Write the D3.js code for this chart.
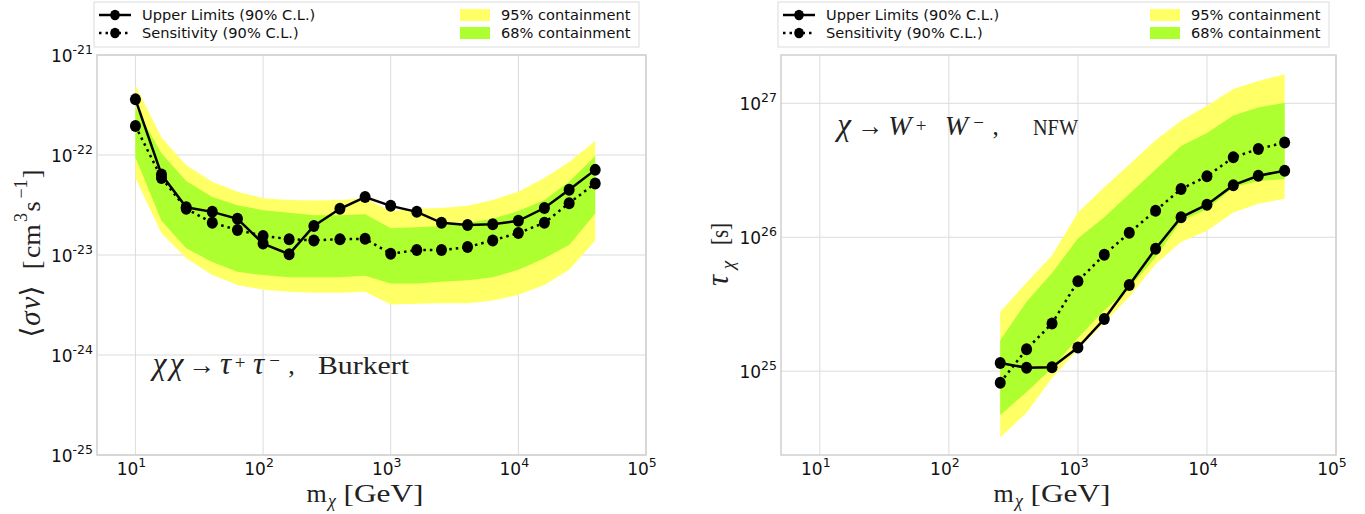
<!DOCTYPE html>
<html>
<head>
<meta charset="utf-8">
<script src="https://cdn.jsdelivr.net/npm/d3@7"></script>
<style>
  body { margin: 0; background: #fff; }
  svg { display: block; }
</style>
</head>
<body>
<svg id="chart" width="1365" height="514"></svg>
<script>
// left panel: annihilation, chi chi -> tau+ tau-, Burkert
var massL = [10, 16, 25, 40, 63, 100, 160, 250, 400, 630, 1000, 1600, 2500, 4000, 6300, 10000, 16000, 25000, 40000];
var upperL = [3.6e-22, 6.4e-23, 3.0e-23, 2.7e-23, 2.3e-23, 1.3e-23, 1.02e-23, 1.95e-23, 2.9e-23, 3.8e-23, 3.1e-23, 2.7e-23, 2.1e-23, 2.0e-23, 2.03e-23, 2.2e-23, 2.95e-23, 4.5e-23, 7.1e-23];
var sensL = [1.95e-22, 5.9e-23, 2.9e-23, 2.1e-23, 1.78e-23, 1.55e-23, 1.44e-23, 1.4e-23, 1.44e-23, 1.45e-23, 1.03e-23, 1.12e-23, 1.12e-23, 1.2e-23, 1.4e-23, 1.66e-23, 2.1e-23, 3.3e-23, 5.2e-23];
var hi95L = [5.0e-22, 1.5e-22, 7.9e-23, 5.4e-23, 4.3e-23, 3.7e-23, 3.55e-23, 3.5e-23, 3.55e-23, 3.7e-23, 2.75e-23, 2.9e-23, 2.95e-23, 3.1e-23, 3.55e-23, 4.3e-23, 5.9e-23, 8.5e-23, 1.38e-22];
var hi68L = [3.0e-22, 1.04e-22, 5.5e-23, 3.8e-23, 3.15e-23, 2.8e-23, 2.65e-23, 2.5e-23, 2.5e-23, 2.55e-23, 1.85e-23, 1.9e-23, 1.95e-23, 2.1e-23, 2.3e-23, 2.75e-23, 3.55e-23, 5.4e-23, 9.8e-23];
var lo68L = [9.5e-23, 2.2e-23, 1.17e-23, 8.5e-24, 6.8e-24, 6.3e-24, 6.0e-24, 6.0e-24, 6.0e-24, 6.2e-24, 5.2e-24, 5.2e-24, 5.4e-24, 5.6e-24, 6.0e-24, 7.1e-24, 9.3e-24, 1.26e-23, 2.6e-23];
var lo95L = [5.9e-23, 1.65e-23, 9.3e-24, 6.3e-24, 5.0e-24, 4.5e-24, 4.3e-24, 4.2e-24, 4.2e-24, 4.3e-24, 3.2e-24, 3.25e-24, 3.3e-24, 3.3e-24, 3.5e-24, 4.0e-24, 5.0e-24, 7.1e-24, 1.4e-23];

// right panel: decay, chi -> W+ W-, NFW
var massR = [250, 400, 630, 1000, 1600, 2500, 4000, 6300, 10000, 16000, 25000, 40000];
var upperR = [1.15e25, 1.06e25, 1.07e25, 1.5e25, 2.45e25, 4.4e25, 8.2e25, 1.41e26, 1.75e26, 2.45e26, 2.88e26, 3.14e26];
var sensR = [8.2e24, 1.46e25, 2.27e25, 4.7e25, 7.4e25, 1.08e26, 1.58e26, 2.29e26, 2.85e26, 3.95e26, 4.56e26, 5.1e26];
var hi95R = [2.77e25, 4.6e25, 7.3e25, 1.53e26, 2.36e26, 3.5e26, 5.3e26, 7.4e26, 9.6e26, 1.28e27, 1.47e27, 1.65e27];
var hi68R = [1.7e25, 3.3e25, 5.4e25, 9.8e25, 1.41e26, 2.1e26, 3.2e26, 4.8e26, 6.0e26, 8.1e26, 9.3e26, 1.01e27];
var lo68R = [4.7e24, 7.0e24, 1.05e25, 1.77e25, 2.85e25, 4.2e25, 7.1e25, 1.32e26, 1.62e26, 2.36e26, 2.63e26, 2.72e26];
var lo95R = [3.2e24, 4.9e24, 8.9e24, 1.45e25, 2.3e25, 3.6e25, 6.3e25, 9.2e25, 1.12e26, 1.53e26, 1.78e26, 1.94e26];

var xTicks = [1e1, 1e2, 1e3, 1e4, 1e5];
var yTicksL = [1e-25, 1e-24, 1e-23, 1e-22, 1e-21];
var yTicksR = [1e25, 1e26, 1e27];

var legendLines = ["Upper Limits (90% C.L.)", "Sensitivity (90% C.L.)"];
var legendBands = ["95% containment", "68% containment"];

var YELLOW = "#ffff66", GREEN = "#adff2f";
var SANS = "DejaVu Sans, sans-serif";
var SERIF = "Liberation Serif, DejaVu Serif, serif";

var svg = d3.select("#chart");

function sup(sel, base, exp) {
    sel.append("tspan").text(base);
    sel.append("tspan").attr("dy", -8.5).attr("font-size", 12.5).text(exp);
}

// math-like text: each piece sits in its own slot [x, x+w];
// words are fitted to the slot, single glyphs are centred in it
function mathText(g, list, fs) {
    list.forEach(function(p) {
        var t = g.append("text")
            .attr("y", p.y || 0)
            .attr("font-family", SERIF).attr("font-size", p.fs || fs)
            .attr("font-style", p.it ? "italic" : null)
            .attr("fill", "#222").text(p.t);
        if (p.fit) {
            t.attr("x", p.x).attr("textLength", p.w).attr("lengthAdjust", "spacingAndGlyphs");
        } else {
            t.attr("x", p.x + p.w / 2).attr("text-anchor", "middle");
        }
    });
}

function drawPanel(p) {
    var x = d3.scaleLog().domain([5, 1e5]).range([p.left, p.right]);
    var y = d3.scaleLog().domain(p.ydom).range([p.bottom, p.top]);
    var g = svg.append("g");

    // grid
    g.selectAll(".gx").data(xTicks).enter().append("line")
        .attr("x1", d => x(d)).attr("x2", d => x(d))
        .attr("y1", p.top).attr("y2", p.bottom)
        .attr("stroke", "#dcdcdc").attr("stroke-width", 1);
    g.selectAll(".gy").data(p.yticks).enter().append("line")
        .attr("x1", p.left).attr("x2", p.right)
        .attr("y1", d => y(d)).attr("y2", d => y(d))
        .attr("stroke", "#dcdcdc").attr("stroke-width", 1);

    // bands
    var rows = p.mass.map((m, i) => ({m: m, lo95: p.lo95[i], hi95: p.hi95[i], lo68: p.lo68[i], hi68: p.hi68[i]}));
    g.append("path").datum(rows)
        .attr("fill", YELLOW)
        .attr("d", d3.area().x(d => x(d.m)).y0(d => y(d.lo95)).y1(d => y(d.hi95)));
    g.append("path").datum(rows)
        .attr("fill", GREEN)
        .attr("d", d3.area().x(d => x(d.m)).y0(d => y(d.lo68)).y1(d => y(d.hi68)));

    // lines
    var line = d3.line().x(d => x(d[0])).y(d => y(d[1]));
    var sens = p.mass.map((m, i) => [m, p.sens[i]]);
    var upper = p.mass.map((m, i) => [m, p.upper[i]]);
    g.append("path").datum(sens).attr("fill", "none").attr("stroke", "#000")
        .attr("stroke-width", 2.5).attr("stroke-dasharray", "2.5,4").attr("d", line);
    g.append("path").datum(upper).attr("fill", "none").attr("stroke", "#000")
        .attr("stroke-width", 2.5).attr("d", line);
    g.selectAll(".ms").data(sens.concat(upper)).enter().append("ellipse")
        .attr("cx", d => x(d[0])).attr("cy", d => y(d[1]))
        .attr("rx", 5.5).attr("ry", 6).attr("fill", "#000");

    // frame
    g.append("rect").attr("x", p.left).attr("y", p.top)
        .attr("width", p.right - p.left).attr("height", p.bottom - p.top)
        .attr("fill", "none").attr("stroke", "#cfcfcf").attr("stroke-width", 1.5);

    // tick labels
    g.selectAll(".tx").data(xTicks).enter().append("text")
        .attr("x", d => x(d) - 4).attr("y", p.bottom + 20)
        .attr("text-anchor", "middle").attr("font-family", SANS).attr("font-size", 17).attr("fill", "#111")
        .each(function(d) { sup(d3.select(this), "10", Math.round(Math.log10(d))); });
    g.selectAll(".ty").data(p.yticks).enter().append("text")
        .attr("x", p.left - 4).attr("y", d => y(d) + 7)
        .attr("text-anchor", "end").attr("font-family", SANS).attr("font-size", 17).attr("fill", "#111")
        .each(function(d) { sup(d3.select(this), "10", Math.round(Math.log10(d))); });

    // x label
    var c = (p.left + p.right) / 2 - 5;
    mathText(g.append("g").attr("transform", "translate(" + c + ",502)"), [
        {t: "m", x: -59, w: 18},
        {t: "χ", x: -39, w: 9, fs: 18, y: 5, it: true},
        {t: "[GeV]", x: -23, w: 80, fit: true}
    ], 26);

    // y label
    mathText(g.append("g").attr("transform", "translate(" + p.ylab[0] + "," + p.ylab[1] + ") rotate(-90)"), p.ylabel, 26);

    // annotation
    mathText(g.append("g"), p.ann, p.annSize);

    // legend
    var lg = g.append("g");
    lg.append("rect").attr("x", p.left - 3).attr("y", 2).attr("width", p.right - p.left - 4).attr("height", 45)
        .attr("fill", "#fff").attr("stroke", "#dcdcdc");
    legendLines.forEach(function(t, i) {
        var yy = 15 + i * 18;
        lg.append("line").attr("x1", p.left + 2).attr("x2", p.left + 34).attr("y1", yy).attr("y2", yy)
            .attr("stroke", "#000").attr("stroke-width", 2.5)
            .attr("stroke-dasharray", i ? "2.5,4" : null);
        lg.append("ellipse").attr("cx", p.left + 18).attr("cy", yy).attr("rx", 4.8).attr("ry", 5.3).attr("fill", "#000");
        lg.append("text").attr("x", p.left + 45).attr("y", yy + 5)
            .attr("font-family", SANS).attr("font-size", 14.6).attr("fill", "#111").text(t);
    });
    legendBands.forEach(function(t, i) {
        var yy = 15 + i * 18;
        lg.append("rect").attr("x", p.right - 186).attr("y", yy - 6).attr("width", 30).attr("height", 12)
            .attr("fill", i ? GREEN : YELLOW);
        lg.append("text").attr("x", p.right - 145).attr("y", yy + 5)
            .attr("font-family", SANS).attr("font-size", 14.6).attr("fill", "#111").text(t);
    });
}

drawPanel({
    left: 97, right: 646, top: 55, bottom: 455,
    ydom: [1e-25, 1e-21], yticks: yTicksL,
    mass: massL, upper: upperL, sens: sensL,
    hi95: hi95L, hi68: hi68L, lo68: lo68L, lo95: lo95L,
    ylab: [40, 337],
    ylabel: [
        {t: "\u27E8", x: 0, w: 10, fs: 28},
        {t: "σ", x: 12, w: 13, fs: 29, it: true},
        {t: "v", x: 28, w: 12, fs: 29, it: true},
        {t: "\u27E9", x: 42, w: 8, fs: 28},
        {t: "[", x: 68, w: 8},
        {t: "cm", x: 79, w: 34, fit: true},
        {t: "3", x: 115, w: 9, fs: 18, y: -13},
        {t: "s", x: 125, w: 11},
        {t: "\u22121", x: 138, w: 20, fs: 18, y: -13},
        {t: "]", x: 159, w: 8}
    ],
    annSize: 26,
    ann: [
        {t: "χ", x: 151, y: 374, w: 17, fs: 31, it: true},
        {t: "χ", x: 168, y: 374, w: 17, fs: 31, it: true},
        {t: "→", x: 188, y: 374, w: 27, fs: 27, fit: true},
        {t: "τ", x: 218, y: 374, w: 15, fs: 31, it: true},
        {t: "+", x: 235, y: 369, w: 10, fs: 19},
        {t: "τ", x: 250, y: 374, w: 17, fs: 31, it: true},
        {t: "\u2212", x: 269, y: 367, w: 11, fs: 19},
        {t: ",", x: 289, y: 374, w: 5},
        {t: "Burkert", x: 318, y: 374, w: 91, fit: true}
    ]
});

drawPanel({
    left: 781, right: 1336, top: 55, bottom: 455,
    ydom: [Math.pow(10, 24.374), Math.pow(10, 27.361)], yticks: yTicksR,
    mass: massR, upper: upperR, sens: sensR,
    hi95: hi95R, hi68: hi68R, lo68: lo68R, lo95: lo95R,
    ylab: [728, 290],
    ylabel: [
        {t: "τ", x: 2, w: 15, fs: 31, it: true},
        {t: "χ", x: 19, w: 12, fs: 19, y: 6, it: true},
        {t: "[s]", x: 45, w: 22, fit: true}
    ],
    annSize: 25,
    ann: [
        {t: "χ", x: 835, y: 135, w: 18, fs: 31, it: true},
        {t: "→", x: 857, y: 135, w: 26, fs: 27, fit: true},
        {t: "W", x: 887, y: 135, w: 26, fs: 28, it: true},
        {t: "+", x: 915, y: 132, w: 12, fs: 19},
        {t: "W", x: 943, y: 135, w: 27, fs: 28, it: true},
        {t: "\u2212", x: 972, y: 129, w: 13, fs: 19},
        {t: ",", x: 993, y: 135, w: 5},
        {t: "NFW", x: 1033, y: 135, w: 45, fs: 23, fit: true}
    ]
});
</script>
</body>
</html>
